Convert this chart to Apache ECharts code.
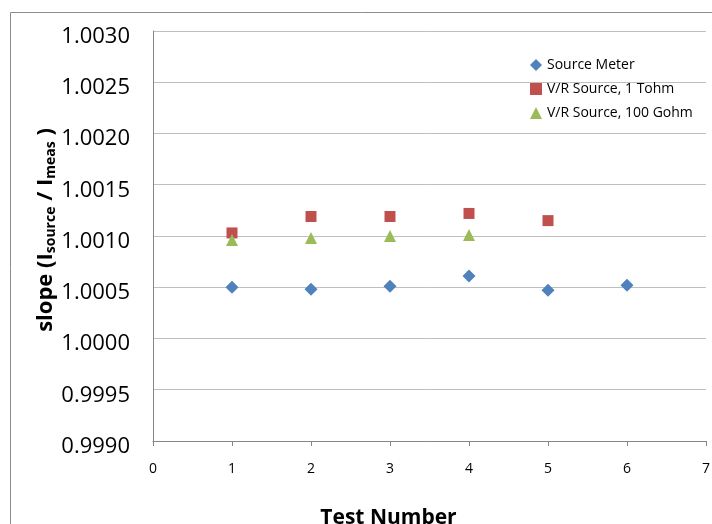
<!DOCTYPE html>
<html><head><meta charset="utf-8">
<script src="https://cdn.jsdelivr.net/npm/echarts@6/dist/echarts.min.js"></script>
<style>html,body{margin:0;padding:0;background:#fff}#c{width:712px;height:524px}</style>
</head><body><div id="c"></div>
<script>
const seriesNames = ['Source Meter', 'V/R Source, 1 Tohm', 'V/R Source, 100 Gohm'];
const sourceMeterX = [1, 2, 3, 4, 5, 6];
const sourceMeterY = [1.00050, 1.00048, 1.00051, 1.00061, 1.00047, 1.00052];
const tohmX = [1, 2, 3, 4, 5];
const tohmY = [1.00103, 1.00119, 1.00119, 1.00122, 1.00115];
const gohmX = [1, 2, 3, 4];
const gohmY = [1.00096, 1.00098, 1.00100, 1.00101];
const yTicks = [0.9990, 0.9995, 1.0000, 1.0005, 1.0010, 1.0015, 1.0020, 1.0025, 1.0030];

const pair = (xs, ys) => xs.map((x, i) => [x, ys[i]]);
const font = 'Open Sans, Noto Sans, Liberation Sans, sans-serif';
const chart = echarts.init(document.getElementById('c'));
chart.setOption({
  animation: false,
  backgroundColor: '#fff',
  graphic: [{type: 'rect', left: 8, top: 10, shape: {width: 710, height: 530}, style: {fill: 'none', stroke: '#8c8c8c', lineWidth: 1}, silent: true}],
  grid: {left: 153, right: 6, top: 31, bottom: 83, outerBoundsMode: 'none', containLabel: false},
  legend: {
    orient: 'vertical', left: 525, top: 53, itemGap: 10, itemWidth: 12, itemHeight: 12,
    textStyle: {fontFamily: font, fontSize: 14, color: '#000'},
    data: [
      {name: seriesNames[0], icon: 'diamond'},
      {name: seriesNames[1], icon: 'rect'},
      {name: seriesNames[2], icon: 'triangle'}
    ]
  },
  xAxis: {
    type: 'value', min: 0, max: 7, interval: 1,
    name: 'Test Number', nameLocation: 'middle', nameGap: 67,
    nameTextStyle: {fontFamily: font, fontSize: 21, fontWeight: 'bold', color: '#000', padding: [0, 82, 0, 0]},
    axisLine: {lineStyle: {color: '#868686'}},
    axisTick: {show: true, length: 5, lineStyle: {color: '#868686'}},
    axisLabel: {fontFamily: font, fontSize: 14, color: '#000', margin: 21},
    splitLine: {show: false}
  },
  yAxis: {
    type: 'value', min: yTicks[0], max: yTicks[yTicks.length - 1], interval: 0.0005,
    name: 'slope (I{sub|source} / I{sub|meas} )', nameLocation: 'middle', nameGap: 95, nameRotate: 90,
    nameMoveOverlap: false,
    nameTextStyle: {fontFamily: font, fontSize: 22, fontWeight: 'bold', color: '#000', padding: [0, 0, 0, 12],
      rich: {sub: {fontFamily: font, fontSize: 14, fontWeight: 'bold', color: '#000', verticalAlign: 'bottom', padding: [10, 0, 0, 0]}}},
    axisLine: {show: true, lineStyle: {color: '#868686'}},
    axisTick: {show: false},
    axisLabel: {
      margin: 23,
      formatter: v => '{a|' + v.toFixed(4) + '}',
      rich: {a: {fontFamily: font, fontSize: 22, color: '#000', padding: [11, 0, 0, 0]}}
    },
    splitLine: {lineStyle: {color: '#bfbfbf', width: 1}}
  },
  series: [
    {name: seriesNames[0], type: 'scatter', symbol: 'diamond', symbolSize: 13, itemStyle: {color: '#4F81BD', opacity: 1}, data: pair(sourceMeterX, sourceMeterY)},
    {name: seriesNames[1], type: 'scatter', symbol: 'rect', symbolSize: 11, itemStyle: {color: '#C0504D', opacity: 1}, data: pair(tohmX, tohmY)},
    {name: seriesNames[2], type: 'scatter', symbol: 'triangle', symbolSize: 12, itemStyle: {color: '#9BBB59', opacity: 1}, data: pair(gohmX, gohmY)}
  ]
});
</script></body></html>
